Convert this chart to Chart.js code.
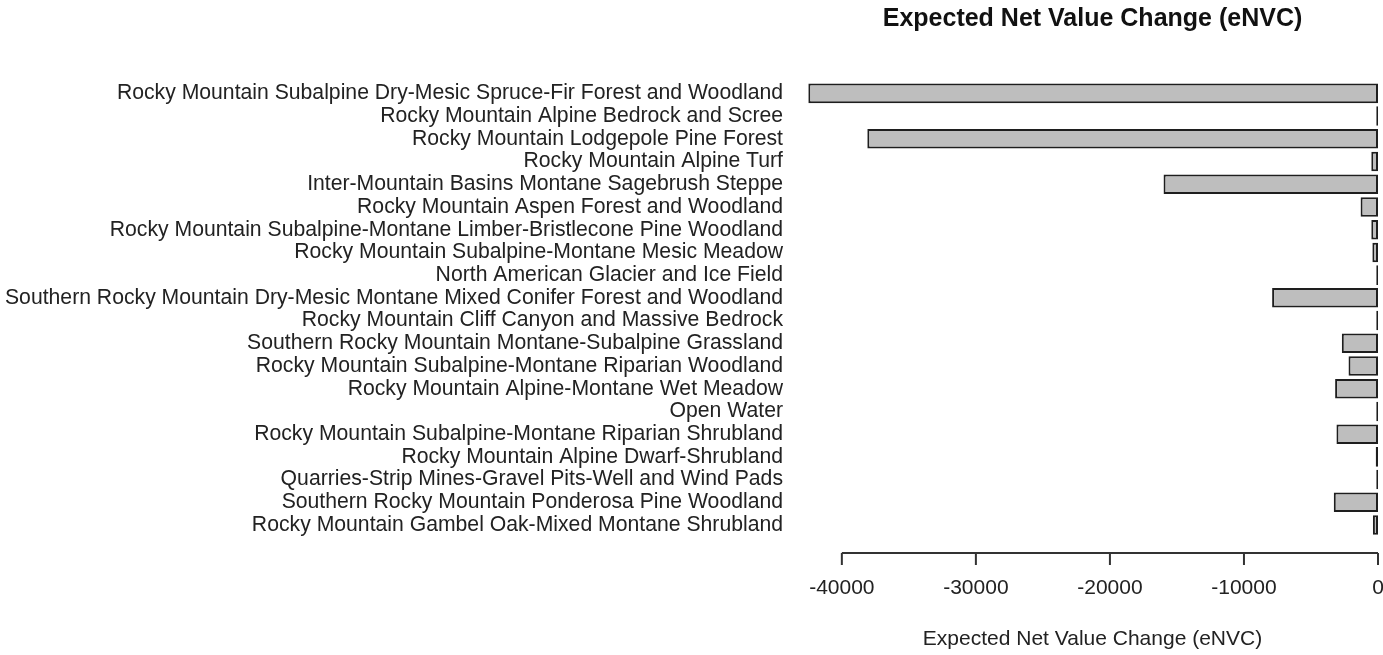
<!DOCTYPE html>
<html>
<head>
<meta charset="utf-8">
<title>Expected Net Value Change (eNVC)</title>
<script src="https://cdn.jsdelivr.net/npm/chart.js@4.4.0/dist/chart.umd.min.js"></script>
<style>
  html, body { margin: 0; padding: 0; background: #fff; }
  #wrap { width: 1383px; height: 655px; position: relative; }
</style>
</head>
<body>
<div id="wrap"><canvas id="envc-chart"></canvas></div>
<script>
// Ecological systems, top to bottom as in the figure
const systems = [
  'Rocky Mountain Subalpine Dry-Mesic Spruce-Fir Forest and Woodland',
  'Rocky Mountain Alpine Bedrock and Scree',
  'Rocky Mountain Lodgepole Pine Forest',
  'Rocky Mountain Alpine Turf',
  'Inter-Mountain Basins Montane Sagebrush Steppe',
  'Rocky Mountain Aspen Forest and Woodland',
  'Rocky Mountain Subalpine-Montane Limber-Bristlecone Pine Woodland',
  'Rocky Mountain Subalpine-Montane Mesic Meadow',
  'North American Glacier and Ice Field',
  'Southern Rocky Mountain Dry-Mesic Montane Mixed Conifer Forest and Woodland',
  'Rocky Mountain Cliff Canyon and Massive Bedrock',
  'Southern Rocky Mountain Montane-Subalpine Grassland',
  'Rocky Mountain Subalpine-Montane Riparian Woodland',
  'Rocky Mountain Alpine-Montane Wet Meadow',
  'Open Water',
  'Rocky Mountain Subalpine-Montane Riparian Shrubland',
  'Rocky Mountain Alpine Dwarf-Shrubland',
  'Quarries-Strip Mines-Gravel Pits-Well and Wind Pads',
  'Southern Rocky Mountain Ponderosa Pine Woodland',
  'Rocky Mountain Gambel Oak-Mixed Montane Shrubland'
];

// eNVC per system
const envcValues = [
  -42500, -130, -38100, -500, -16000,
  -1300, -500, -420, -130, -7900,
  -130, -2700, -2200, -3200, -130,
  -3100, -170, -130, -3300, -380
];

// x axis tick values
const xTicks = [-40000, -30000, -20000, -10000, 0];

const textColor = '#222';
const xLabelPad = 39;
Chart.defaults.font.family = "'Liberation Sans', Arial, sans-serif";
Chart.defaults.color = textColor;

// R style axis: line only between first and last tick, drawn a bit below the bars
const rAxisPlugin = {
  id: 'rAxis',
  afterDraw(chart) {
    const x = chart.scales.x;
    const ctx = chart.ctx;
    const y0 = chart.chartArea.bottom + 16.5;
    const first = x.getPixelForValue(xTicks[0]);
    const last = x.getPixelForValue(xTicks[xTicks.length - 1]);
    ctx.save();
    ctx.strokeStyle = '#333';
    ctx.lineWidth = 2;
    ctx.beginPath();
    ctx.moveTo(first, y0);
    ctx.lineTo(last, y0);
    xTicks.forEach(v => {
      const px = x.getPixelForValue(v);
      ctx.moveTo(px, y0);
      ctx.lineTo(px, y0 + 12);
    });
    ctx.stroke();
    ctx.restore();
  }
};

new Chart(document.getElementById('envc-chart'), {
  type: 'bar',
  data: {
    labels: systems,
    datasets: [{
      data: envcValues,
      backgroundColor: '#bebebe',
      borderColor: '#1e1e1e',
      borderWidth: 2,
      borderSkipped: false,
      barPercentage: 0.86,
      categoryPercentage: 1
    }]
  },
  options: {
    indexAxis: 'y',
    responsive: true,
    maintainAspectRatio: false,
    animation: false,
    layout: {
      padding: { left: 0, right: 5, top: 0, bottom: 3.4 }
    },
    plugins: {
      legend: { display: false },
      tooltip: { enabled: false },
      title: {
        display: true,
        fullSize: false,
        text: 'Expected Net Value Change (eNVC)',
        color: '#111',
        font: { size: 25, weight: 'bold' },
        padding: { top: 4, bottom: 48 }
      }
    },
    scales: {
      x: {
        type: 'linear',
        min: -42600,
        max: 0,
        grid: { display: false, drawTicks: false },
        border: { display: false },
        afterBuildTicks: scale => {
          scale.ticks = xTicks.map(v => ({ value: v }));
        },
        // Chart.js counts the label padding twice in height and adds it to the sides
        afterFit: scale => {
          scale.paddingLeft = 0;
          scale.paddingRight = 0;
          scale.height -= xLabelPad;
        },
        ticks: {
          padding: xLabelPad,
          font: { size: 21 },
          color: textColor,
          maxRotation: 0,
          callback: value => String(value)
        },
        title: {
          display: true,
          text: 'Expected Net Value Change (eNVC)',
          font: { size: 21 },
          color: textColor,
          padding: { top: 25.8, bottom: 0 }
        }
      },
      y: {
        grid: { display: false, drawTicks: false },
        border: { display: false },
        afterFit: scale => {
          scale.width = 807;
          scale.paddingTop = 0;
          scale.paddingBottom = 0;
        },
        ticks: {
          autoSkip: false,
          padding: 24,
          font: { size: 21.2 },
          color: textColor
        }
      }
    }
  },
  plugins: [rAxisPlugin]
});
</script>
</body>
</html>
